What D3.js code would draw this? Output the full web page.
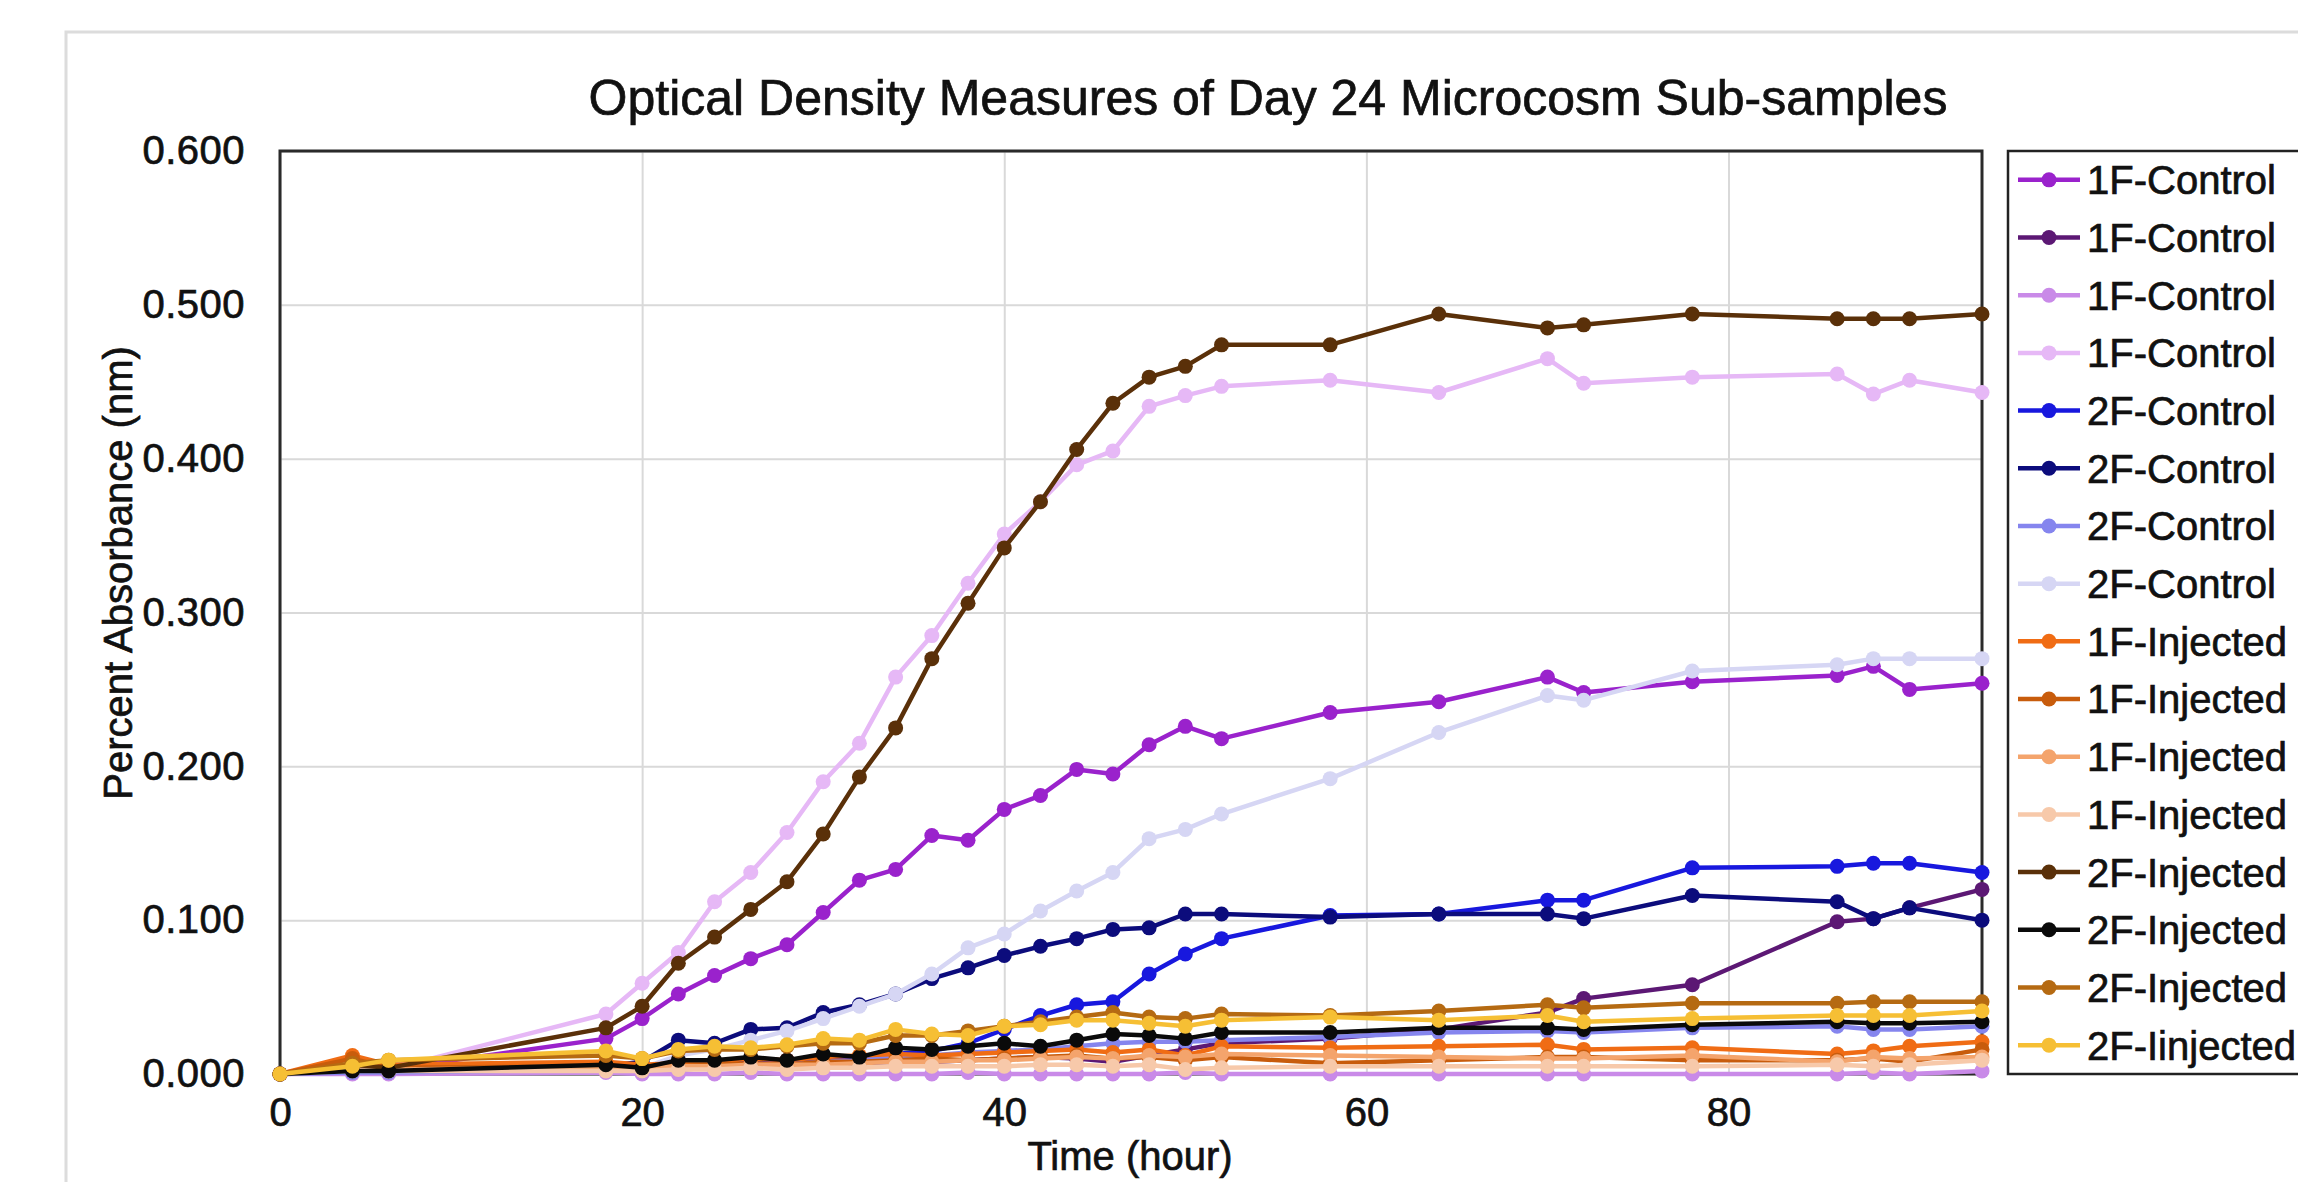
<!DOCTYPE html>
<html>
<head>
<meta charset="utf-8">
<script src="https://cdn.jsdelivr.net/npm/d3@7"></script>
<style>
  html, body { margin: 0; padding: 0; background: #ffffff; }
  svg { display: block; font-family: 'Liberation Sans', Arial, Helvetica, sans-serif; }
</style>
</head>
<body>
<div id="main-chart-container"></div>
<script>
const hours = [0, 4, 6, 18, 20, 22, 24, 26, 28, 30, 32, 34, 36, 38, 40, 42, 44, 46, 48, 50, 52, 58, 64, 70, 72, 78, 86, 88, 90, 94]

const yTicks = [0, 0.1, 0.2, 0.3, 0.4, 0.5, 0.6]
const xTicks = [0, 20, 40, 60, 80]

const control1FA = [0, 0.003, 0.003, 0.023, 0.036, 0.052, 0.064, 0.075, 0.084, 0.105, 0.126, 0.133, 0.155, 0.152, 0.172, 0.181, 0.198, 0.195, 0.214, 0.226, 0.218, 0.235, 0.242, 0.258, 0.248, 0.255, 0.259, 0.265, 0.250, 0.254]
const control1FB = [0, 0.001, 0.001, 0.002, 0.002, 0.003, 0.004, 0.005, 0.005, 0.006, 0.007, 0.008, 0.008, 0.009, 0.010, 0.011, 0.010, 0.008, 0.012, 0.016, 0.020, 0.023, 0.029, 0.040, 0.049, 0.058, 0.099, 0.101, 0.108, 0.120]
const control1FC = [0, 0, 0, 0.001, 0, 0, 0, 0.001, 0, 0, 0, 0, 0, 0.001, 0, 0, 0, 0, 0, 0.001, 0, 0, 0, 0, 0, 0, 0, 0.001, 0, 0.002]
const control1FD = [0, 0.003, 0.003, 0.039, 0.059, 0.079, 0.112, 0.131, 0.157, 0.190, 0.215, 0.258, 0.285, 0.319, 0.351, 0.372, 0.396, 0.405, 0.434, 0.441, 0.447, 0.451, 0.443, 0.465, 0.449, 0.453, 0.455, 0.442, 0.451, 0.443]
const control2FA = [0, 0.002, 0.002, 0.004, 0.003, 0.006, 0.007, 0.008, 0.009, 0.010, 0.011, 0.013, 0.015, 0.020, 0.029, 0.038, 0.045, 0.047, 0.065, 0.078, 0.088, 0.103, 0.104, 0.113, 0.113, 0.134, 0.135, 0.137, 0.137, 0.131]
const control2FB = [0, 0.002, 0.002, 0.005, 0.008, 0.022, 0.020, 0.029, 0.030, 0.040, 0.045, 0.052, 0.062, 0.069, 0.077, 0.083, 0.088, 0.094, 0.095, 0.104, 0.104, 0.102, 0.104, 0.104, 0.101, 0.116, 0.112, 0.101, 0.108, 0.100]
const control2FC = [0, 0.001, 0.001, 0.003, 0.002, 0.004, 0.005, 0.006, 0.006, 0.008, 0.009, 0.011, 0.012, 0.014, 0.015, 0.016, 0.018, 0.020, 0.021, 0.021, 0.022, 0.024, 0.027, 0.028, 0.027, 0.030, 0.031, 0.029, 0.029, 0.031]
const control2FD = [0, 0.002, 0.002, 0.006, 0.004, 0.012, 0.016, 0.022, 0.028, 0.036, 0.044, 0.052, 0.065, 0.082, 0.091, 0.106, 0.119, 0.131, 0.153, 0.159, 0.169, 0.192, 0.222, 0.246, 0.243, 0.262, 0.266, 0.270, 0.270, 0.270]
const injected1FA = [0, 0.012, 0.006, 0.008, 0.006, 0.007, 0.008, 0.010, 0.009, 0.011, 0.012, 0.013, 0.012, 0.013, 0.014, 0.015, 0.016, 0.014, 0.016, 0.012, 0.018, 0.017, 0.018, 0.019, 0.016, 0.017, 0.013, 0.015, 0.018, 0.021]
const injected1FB = [0, 0.010, 0.004, 0.005, 0.004, 0.005, 0.006, 0.007, 0.006, 0.008, 0.008, 0.009, 0.010, 0.009, 0.010, 0.011, 0.012, 0.010, 0.011, 0.009, 0.011, 0.007, 0.009, 0.011, 0.011, 0.009, 0.009, 0.010, 0.008, 0.016]
const injected1FC = [0, 0.006, 0.003, 0.004, 0.004, 0.005, 0.005, 0.006, 0.006, 0.006, 0.007, 0.008, 0.008, 0.009, 0.009, 0.010, 0.011, 0.010, 0.012, 0.011, 0.013, 0.012, 0.011, 0.010, 0.010, 0.012, 0.008, 0.011, 0.010, 0.011]
const injected1FD = [0, 0.003, 0.002, 0.002, 0.002, 0.003, 0.003, 0.004, 0.003, 0.004, 0.004, 0.005, 0.005, 0.005, 0.005, 0.006, 0.006, 0.005, 0.006, 0.003, 0.004, 0.005, 0.005, 0.005, 0.005, 0.005, 0.006, 0.005, 0.006, 0.009]
const injected2FA = [0, 0.006, 0.004, 0.030, 0.044, 0.072, 0.089, 0.107, 0.125, 0.156, 0.193, 0.225, 0.270, 0.306, 0.342, 0.372, 0.406, 0.436, 0.453, 0.460, 0.474, 0.474, 0.494, 0.485, 0.487, 0.494, 0.491, 0.491, 0.491, 0.494]
const injected2FB = [0, 0.002, 0.002, 0.006, 0.004, 0.009, 0.009, 0.011, 0.009, 0.013, 0.011, 0.017, 0.016, 0.018, 0.020, 0.018, 0.022, 0.026, 0.025, 0.023, 0.027, 0.027, 0.030, 0.030, 0.029, 0.032, 0.034, 0.033, 0.033, 0.034]
const injected2FC = [0, 0.007, 0.009, 0.012, 0.010, 0.015, 0.016, 0.016, 0.018, 0.020, 0.020, 0.025, 0.025, 0.028, 0.031, 0.034, 0.037, 0.040, 0.037, 0.036, 0.039, 0.038, 0.041, 0.045, 0.043, 0.046, 0.046, 0.047, 0.047, 0.047]
const injected2FD = [0, 0.005, 0.009, 0.015, 0.010, 0.016, 0.018, 0.017, 0.019, 0.023, 0.022, 0.029, 0.026, 0.025, 0.031, 0.032, 0.035, 0.035, 0.033, 0.031, 0.035, 0.037, 0.035, 0.038, 0.034, 0.036, 0.038, 0.038, 0.038, 0.041]

const seriesNames = [
  '1F-Control', '1F-Control', '1F-Control', '1F-Control',
  '2F-Control', '2F-Control', '2F-Control', '2F-Control',
  '1F-Injected', '1F-Injected', '1F-Injected', '1F-Injected',
  '2F-Injected', '2F-Injected', '2F-Injected', '2F-Iinjected',
]
const seriesValues = [
  control1FA, control1FB, control1FC, control1FD,
  control2FA, control2FB, control2FC, control2FD,
  injected1FA, injected1FB, injected1FC, injected1FD,
  injected2FA, injected2FB, injected2FC, injected2FD,
]
const seriesColors = [
  '#9a22cc', '#5c1874', '#c98ae8', '#e6b8f6',
  '#1818de', '#0c0c7c', '#8585ee', '#d6d6f4',
  '#f06c14', '#c85c0c', '#f4a46c', '#f7c9aa',
  '#5a3009', '#0a0a0a', '#b56a12', '#f6bf34',
]

const width = 2298
const height = 1182
const margin = { left: 280, top: 151, right: 316, bottom: 108 }
const fontSize = 40
const textColor = '#111111'

const root = d3.select('#main-chart-container')

const svg = root
  .append('svg')
  .attr('width', width)
  .attr('height', height)
  .attr('viewBox', [0, 0, width, height])

svg.append('rect').attr('width', width).attr('height', height).attr('fill', '#ffffff')

// card outline behind the chart
svg
  .append('rect')
  .attr('x', 66)
  .attr('y', 32)
  .attr('width', width)
  .attr('height', height)
  .attr('fill', '#ffffff')
  .attr('stroke', '#dcdcdc')
  .attr('stroke-width', 3)

const plotRight = width - margin.right
const plotBottom = height - margin.bottom

const xScale = d3.scaleLinear().domain([0, 94]).range([margin.left, plotRight])
const yScale = d3.scaleLinear().domain([0, 0.6]).range([plotBottom, margin.top])

// slightly heavier text, like the original render
function heavyText(selection) {
  selection
    .attr('fill', textColor)
    .attr('stroke', textColor)
    .attr('stroke-width', 0.7)
}

// grid
svg
  .append('g')
  .attr('transform', `translate(0, ${plotBottom})`)
  .call(d3.axisBottom(xScale).tickValues(xTicks).tickSize(-(plotBottom - margin.top)).tickFormat(''))
  .call(g => g.select('.domain').remove())
  .call(g => g.selectAll('line').attr('stroke', '#d9d9d9').attr('stroke-width', 2))

svg
  .append('g')
  .attr('transform', `translate(${margin.left}, 0)`)
  .call(d3.axisLeft(yScale).tickValues(yTicks).tickSize(-(plotRight - margin.left)).tickFormat(''))
  .call(g => g.select('.domain').remove())
  .call(g => g.selectAll('line').attr('stroke', '#d9d9d9').attr('stroke-width', 2))

// tick labels
svg
  .append('g')
  .attr('transform', `translate(${margin.left - 35}, 0)`)
  .call(d3.axisLeft(yScale).tickValues(yTicks).tickSize(0).tickPadding(0).tickFormat(d3.format('.3f')))
  .call(g => g.select('.domain').remove())
  .call(g =>
    g
      .selectAll('text')
      .attr('font-size', fontSize)
      .attr('font-family', null)
      .attr('letter-spacing', 0.5)
      .call(heavyText),
  )

svg
  .append('g')
  .attr('transform', `translate(0, ${plotBottom})`)
  .call(d3.axisBottom(xScale).tickValues(xTicks).tickSize(0).tickPadding(24).tickFormat(d3.format('d')))
  .call(g => g.select('.domain').remove())
  .call(g => g.selectAll('text').attr('font-size', fontSize).attr('font-family', null).call(heavyText))

// plot frame
svg
  .append('rect')
  .attr('x', margin.left)
  .attr('y', margin.top)
  .attr('width', plotRight - margin.left)
  .attr('height', plotBottom - margin.top)
  .attr('fill', 'none')
  .attr('stroke', '#2a2a2a')
  .attr('stroke-width', 3)

// titles
svg
  .append('text')
  .attr('x', 1268)
  .attr('y', 115)
  .attr('text-anchor', 'middle')
  .attr('font-size', 50)
  .call(heavyText)
  .text('Optical Density Measures of Day 24 Microcosm Sub-samples')

svg
  .append('text')
  .attr('x', 1130)
  .attr('y', 1170)
  .attr('text-anchor', 'middle')
  .attr('font-size', fontSize)
  .call(heavyText)
  .text('Time (hour)')

svg
  .append('text')
  .attr('transform', 'translate(132, 573) rotate(-90)')
  .attr('text-anchor', 'middle')
  .attr('font-size', fontSize)
  .call(heavyText)
  .text('Percent Absorbance (nm)')

// series
const line = d3
  .line()
  .x((d, i) => xScale(hours[i]))
  .y(d => yScale(d))

const seriesGroup = svg.append('g')

seriesValues.forEach((values, seriesIndex) => {
  const color = seriesColors[seriesIndex]
  const group = seriesGroup.append('g')

  group
    .append('path')
    .datum(values)
    .attr('fill', 'none')
    .attr('stroke', color)
    .attr('stroke-width', 4.5)
    .attr('stroke-linejoin', 'round')
    .attr('d', line)

  group
    .selectAll('circle')
    .data(values)
    .join('circle')
    .attr('cx', (d, i) => xScale(hours[i]))
    .attr('cy', d => yScale(d))
    .attr('r', 7.5)
    .attr('fill', color)
})

// legend
const legendX = 2008
const legendTop = margin.top
const legendRowHeight = (plotBottom - margin.top) / seriesNames.length

svg
  .append('rect')
  .attr('x', legendX)
  .attr('y', legendTop)
  .attr('width', 330)
  .attr('height', legendRowHeight * seriesNames.length)
  .attr('fill', '#ffffff')
  .attr('stroke', '#222222')
  .attr('stroke-width', 2.5)

const legendRows = svg
  .append('g')
  .selectAll('g')
  .data(seriesNames)
  .join('g')
  .attr('transform', (d, i) => `translate(${legendX}, ${legendTop + (i + 0.5) * legendRowHeight})`)

legendRows
  .append('line')
  .attr('x1', 10)
  .attr('x2', 72)
  .attr('stroke', (d, i) => seriesColors[i])
  .attr('stroke-width', 4.5)

legendRows
  .append('circle')
  .attr('cx', 41)
  .attr('r', 7.5)
  .attr('fill', (d, i) => seriesColors[i])

legendRows
  .append('text')
  .attr('x', 79)
  .attr('dy', '0.36em')
  .attr('font-size', fontSize)
  .call(heavyText)
  .text(d => d)
</script>
</body>
</html>
